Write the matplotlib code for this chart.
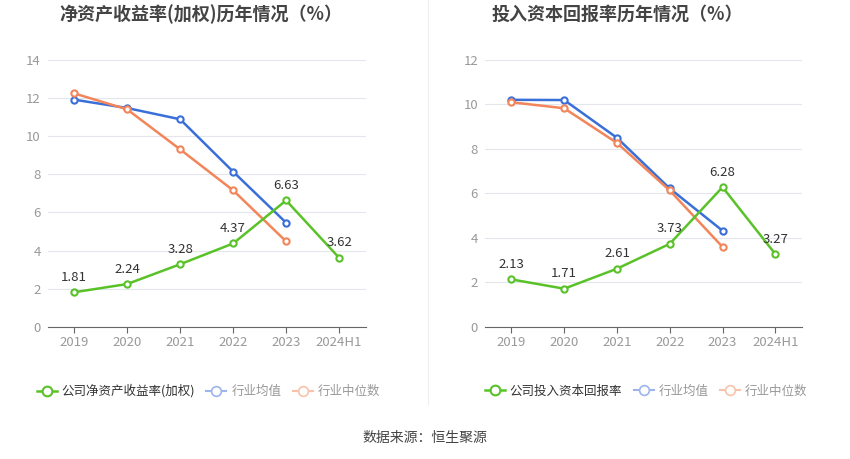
import matplotlib
matplotlib.use("Agg")
import matplotlib.pyplot as plt
from matplotlib.lines import Line2D

plt.rcParams['font.family'] = ['Noto Sans CJK SC', 'DejaVu Sans']

categories = ['2019', '2020', '2021', '2022', '2023', '2024H1']

roe_company = [1.81, 2.24, 3.28, 4.37, 6.63, 3.62]
roe_avg = [11.92, 11.48, 10.89, 8.14, 5.46]
roe_median = [12.25, 11.41, 9.31, 7.16, 4.48]

roic_company = [2.13, 1.71, 2.61, 3.73, 6.28, 3.27]
roic_avg = [10.21, 10.20, 8.50, 6.22, 4.32]
roic_median = [10.10, 9.83, 8.27, 6.13, 3.59]

left_title = '净资产收益率(加权)历年情况（%）'
right_title = '投入资本回报率历年情况（%）'
left_legend = ['公司净资产收益率(加权)', '行业均值', '行业中位数']
right_legend = ['公司投入资本回报率', '行业均值', '行业中位数']
left_yticks = [0, 2, 4, 6, 8, 10, 12, 14]
right_yticks = [0, 2, 4, 6, 8, 10, 12]
source = '数据来源：恒生聚源'

GREEN = '#5ac229'
BLUE = '#3a6fd9'
ORANGE = '#f2855a'

fig = plt.figure(figsize=(8.5, 4.59), dpi=100)


def draw(ax, comp, avg, med, yticks):
    x = list(range(len(categories)))
    ax.plot(x[:len(avg)], avg, color=BLUE, lw=1.8, marker='o', ms=4.5,
            mfc='white', mec=BLUE, mew=1.5, zorder=3)
    ax.plot(x[:len(med)], med, color=ORANGE, lw=1.8, marker='o', ms=4.5,
            mfc='white', mec=ORANGE, mew=1.5, zorder=3)
    ax.plot(x, comp, color=GREEN, lw=1.8, marker='o', ms=4.5,
            mfc='white', mec=GREEN, mew=1.5, zorder=4)
    for xi, v in zip(x, comp):
        ax.annotate(f'{v:.2f}', (xi, v), xytext=(0, 6), textcoords='offset points',
                    ha='center', va='bottom', fontsize=9.5, color='#333333', zorder=5)
    ax.set_xlim(-0.5, len(categories) - 0.5)
    ax.set_ylim(0, yticks[-1])
    ax.set_yticks(yticks)
    ax.set_xticks(x)
    ax.set_xticklabels(categories)
    ax.grid(axis='y', color='#e3e6ec', lw=0.8)
    ax.set_axisbelow(True)
    for s in ['top', 'right', 'left']:
        ax.spines[s].set_visible(False)
    ax.spines['bottom'].set_color('#666666')
    ax.tick_params(axis='y', length=0, colors='#999999', labelsize=9.5, pad=5)
    ax.tick_params(axis='x', length=4, color='#666666', colors='#999999', labelsize=9.5, pad=3)


ax1 = fig.add_axes([0.0561, 0.2882, 0.374, 0.581])
draw(ax1, roe_company, roe_avg, roe_median, left_yticks)
ax2 = fig.add_axes([0.5706, 0.2882, 0.3726, 0.581])
draw(ax2, roic_company, roic_avg, roic_median, right_yticks)

fig.text(0.236, 0.97, left_title, ha='center', va='center', fontsize=13,
         fontweight='bold', color='#444444')
fig.text(0.726, 0.97, right_title, ha='center', va='center', fontsize=13,
         fontweight='bold', color='#444444')

# separator
fig.add_artist(Line2D([0.5035, 0.5035], [0.12, 1.0], transform=fig.transFigure,
                      color='#eeeeee', lw=0.8))


def legend(labels, cx):
    handles = [
        Line2D([], [], color=GREEN, lw=1.8, marker='o', ms=7, mfc='white', mec=GREEN, mew=1.5),
        Line2D([], [], color='#9db5ec', lw=1.5, marker='o', ms=7, mfc='white', mec='#9db5ec', mew=1.2),
        Line2D([], [], color='#f8c2ab', lw=1.5, marker='o', ms=7, mfc='white', mec='#f8c2ab', mew=1.2),
    ]
    lg = fig.legend(handles, labels, loc='center', bbox_to_anchor=(cx, 0.148), ncol=3,
                    frameon=False, fontsize=9, handlelength=1.6, handletextpad=0.4,
                    columnspacing=0.9)
    cols = ['#333333', '#999999', '#999999']
    for t, c in zip(lg.get_texts(), cols):
        t.set_color(c)


legend(left_legend, 0.245)
legend(right_legend, 0.76)

fig.text(0.5, 0.045, source, ha='center', va='center', fontsize=10, color='#444444')

fig.savefig('out.png', dpi=100)
